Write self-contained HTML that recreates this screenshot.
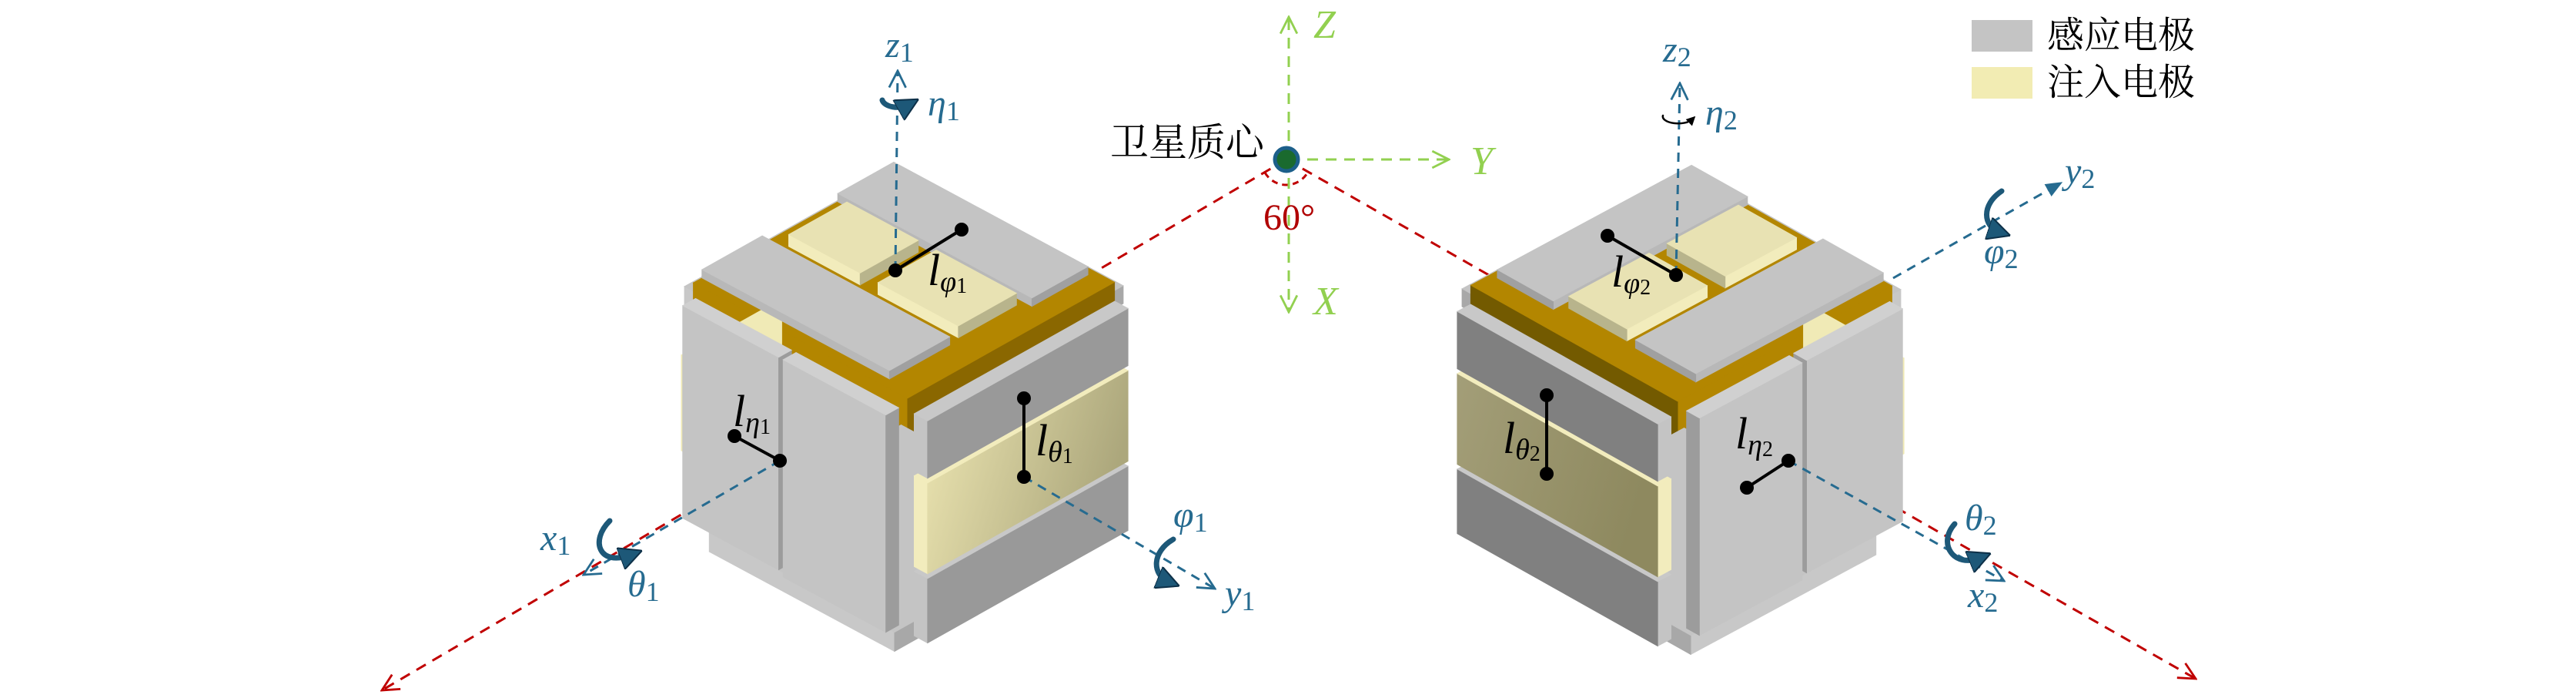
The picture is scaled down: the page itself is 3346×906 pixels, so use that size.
<!DOCTYPE html>
<html><head><meta charset="utf-8">
<style>
html,body{margin:0;padding:0;background:#fff;}
body{width:3346px;height:906px;overflow:hidden;}
svg{display:block;}
.m{font-family:"Liberation Serif","DejaVu Serif",serif;font-style:italic;}
.n{font-style:normal;}
.cjk{font-family:"Liberation Serif","Noto Serif CJK SC","Noto Sans CJK SC",serif;}
</style></head>
<body>
<svg id="s" width="3346" height="906" viewBox="0 0 3346 906" xmlns="http://www.w3.org/2000/svg">
<defs>
<linearGradient id="y1" x1="0" y1="0" x2="1" y2="0.3">
<stop offset="0" stop-color="#eee7b3"/><stop offset="1" stop-color="#aca77c"/></linearGradient>
<linearGradient id="y2" x1="0" y1="0" x2="1" y2="0.3">
<stop offset="0" stop-color="#a39e78"/><stop offset="1" stop-color="#8e895f"/></linearGradient>
<marker id="ar" viewBox="0 0 12 12" refX="11" refY="6" markerWidth="26" markerHeight="26" orient="auto" markerUnits="userSpaceOnUse">
<path d="M1,1 L11,6 L1,11" fill="none" stroke="#c00000" stroke-width="1.3"/></marker>
<marker id="ag" viewBox="0 0 12 12" refX="11" refY="6" markerWidth="26" markerHeight="26" orient="auto" markerUnits="userSpaceOnUse">
<path d="M1,1 L11,6 L1,11" fill="none" stroke="#92d050" stroke-width="1.3"/></marker>
<marker id="ab" viewBox="0 0 12 12" refX="11" refY="6" markerWidth="26" markerHeight="26" orient="auto" markerUnits="userSpaceOnUse">
<path d="M1,1 L11,6 L1,11" fill="none" stroke="#266b90" stroke-width="1.3"/></marker>
<marker id="abf" viewBox="0 0 12 12" refX="10" refY="6" markerWidth="22" markerHeight="22" orient="auto" markerUnits="userSpaceOnUse">
<path d="M0,1 L12,6 L0,11 z" fill="#266b90"/></marker>
<marker id="rot" viewBox="0 0 12 12" refX="6" refY="6" markerWidth="30" markerHeight="30" orient="auto" markerUnits="userSpaceOnUse">
<path d="M0,0 L12,6 L0,12 z" fill="#1d5878" stroke="#0d3048" stroke-width="0.8"/></marker>
<marker id="rotk" viewBox="0 0 12 12" refX="6" refY="6" markerWidth="12" markerHeight="12" orient="auto" markerUnits="userSpaceOnUse">
<path d="M0,0 L12,6 L0,12 z" fill="#000"/></marker>
</defs>

<g fill="none">
<line x1="1671" y1="207" x2="496" y2="896" stroke="#c00000" stroke-width="3" stroke-dasharray="14 10" marker-end="url(#ar)"/>
<line x1="1671" y1="207" x2="2852" y2="881" stroke="#c00000" stroke-width="3" stroke-dasharray="14 10" marker-end="url(#ar)"/>
<path d="M1643,224 A32 32 0 0 0 1699,223" stroke="#c00000" stroke-width="3" stroke-dasharray="8 6"/>
<line x1="1674" y1="207" x2="1674" y2="22" stroke="#92d050" stroke-width="3" stroke-dasharray="14 10" marker-end="url(#ag)"/>
<line x1="1674" y1="207" x2="1674" y2="405" stroke="#92d050" stroke-width="3" stroke-dasharray="14 10" marker-end="url(#ag)"/>
<line x1="1674" y1="207" x2="1882" y2="207" stroke="#92d050" stroke-width="3" stroke-dasharray="14 10" marker-end="url(#ag)"/>
</g>
<circle cx="1671" cy="207" r="15" fill="#1a6a2e" stroke="#1c5f8a" stroke-width="5"/>
<text x="1706" y="49" class="m" font-size="52" fill="#92d050">Z</text>
<text x="1910" y="226" class="m" font-size="52" fill="#92d050">Y</text>
<text x="1706" y="408" class="m" font-size="52" fill="#92d050">X</text>
<text x="1641" y="298" font-family="Liberation Serif,serif" font-size="48" fill="#b00000">60°</text>
<text x="1442" y="202" class="cjk" font-size="50" fill="#000">卫星质心</text>

<g id="cubes"></g>

<g fill="none" stroke="#266b90" stroke-width="3" stroke-dasharray="12 9">
<line x1="1163" y1="351" x2="1166" y2="92" marker-end="url(#ab)"/>
<line x1="1013" y1="598" x2="758" y2="746" marker-end="url(#ab)"/>
<line x1="1330" y1="619" x2="1578" y2="764" marker-end="url(#ab)"/>
<line x1="2177" y1="357" x2="2182" y2="108" marker-end="url(#ab)"/>
<line x1="2459" y1="361" x2="2676" y2="238" marker-end="url(#abf)"/>
<line x1="2323" y1="598" x2="2603" y2="754" marker-end="url(#ab)"/>
</g>
<g fill="none" stroke="#1d5878" stroke-width="7" stroke-linecap="round">
<path d="M1146,130 A20 11 0 0 0 1180,136" marker-end="url(#rot)"/>
<path d="M792,676 C766,702 778,736 820,720" marker-end="url(#rot)"/>
<path d="M1524,700 C1496,716 1496,746 1518,755" marker-end="url(#rot)"/>
<path d="M2600,248 C2573,266 2576,294 2597,301" marker-end="url(#rot)"/>
<path d="M2539,680 C2516,706 2538,738 2572,724" marker-end="url(#rot)"/>
<path d="M2160,150 A20 9 0 0 0 2198,155" stroke="#000" stroke-width="2.5" marker-end="url(#rotk)"/>
</g>
<g stroke="#000" stroke-width="4" fill="#000">
<line x1="1163" y1="351" x2="1249" y2="298"/><circle cx="1163" cy="351" r="7"/><circle cx="1249" cy="298" r="7"/>
<line x1="954" y1="566" x2="1013" y2="598"/><circle cx="954" cy="566" r="7"/><circle cx="1013" cy="598" r="7"/>
<line x1="1330" y1="517" x2="1330" y2="619"/><circle cx="1330" cy="517" r="7"/><circle cx="1330" cy="619" r="7"/>
<line x1="2088" y1="306" x2="2177" y2="357"/><circle cx="2088" cy="306" r="7"/><circle cx="2177" cy="357" r="7"/>
<line x1="2269" y1="633" x2="2323" y2="598"/><circle cx="2269" cy="633" r="7"/><circle cx="2323" cy="598" r="7"/>
<line x1="2009" y1="513" x2="2009" y2="615"/><circle cx="2009" cy="513" r="7"/><circle cx="2009" cy="615" r="7"/>
</g>
<g class="m" fill="#000" font-size="58">
<text x="1205" y="370">l<tspan font-size="38" dy="8">φ</tspan><tspan class="n" font-size="28" dy="2">1</tspan></text>
<text x="952" y="553">l<tspan font-size="38" dy="8">η</tspan><tspan class="n" font-size="28" dy="2">1</tspan></text>
<text x="1345" y="591">l<tspan font-size="38" dy="8">θ</tspan><tspan class="n" font-size="28" dy="2">1</tspan></text>
<text x="2093" y="372">l<tspan font-size="38" dy="8">φ</tspan><tspan class="n" font-size="28" dy="2">2</tspan></text>
<text x="2254" y="582">l<tspan font-size="38" dy="8">η</tspan><tspan class="n" font-size="28" dy="2">2</tspan></text>
<text x="1952" y="588">l<tspan font-size="38" dy="8">θ</tspan><tspan class="n" font-size="28" dy="2">2</tspan></text>
</g>
<g class="m" fill="#266b90" font-size="48">
<text x="1150" y="74">z<tspan class="n" font-size="36" dy="6">1</tspan></text>
<text x="1205" y="150">η<tspan class="n" font-size="36" dy="6">1</tspan></text>
<text x="702" y="714">x<tspan class="n" font-size="36" dy="6">1</tspan></text>
<text x="815" y="774">θ<tspan class="n" font-size="36" dy="6">1</tspan></text>
<text x="1591" y="786">y<tspan class="n" font-size="36" dy="6">1</tspan></text>
<text x="1524" y="684">φ<tspan class="n" font-size="36" dy="6">1</tspan></text>
<text x="2160" y="80">z<tspan class="n" font-size="36" dy="6">2</tspan></text>
<text x="2215" y="162">η<tspan class="n" font-size="36" dy="6">2</tspan></text>
<text x="2682" y="238">y<tspan class="n" font-size="36" dy="6">2</tspan></text>
<text x="2577" y="342">φ<tspan class="n" font-size="36" dy="6">2</tspan></text>
<text x="2556" y="788">x<tspan class="n" font-size="36" dy="6">2</tspan></text>
<text x="2552" y="688">θ<tspan class="n" font-size="36" dy="6">2</tspan></text>
</g>
<rect x="2561" y="26" width="79" height="41" fill="#c4c4c4"/>
<rect x="2561" y="87" width="79" height="41" fill="#f2ecb3"/>
<text x="2659" y="62" class="cjk" font-size="48" fill="#000">感应电极</text>
<text x="2659" y="123" class="cjk" font-size="48" fill="#000">注入电极</text>

<script>
(function(){
var NS='http://www.w3.org/2000/svg';
var g=document.getElementById('cubes');
function cube(m,c){
  var P=function(X,Y,Z){var x=1179-290*X+280*Y,y=830-156*X-157*Y-310*Z;return m?[3358-x,y+4]:[x,y];};
  function poly(pts,fill){var p=document.createElementNS(NS,'polygon');
    p.setAttribute('points',pts.map(function(q){return q[0].toFixed(1)+','+q[1].toFixed(1);}).join(' '));
    p.setAttribute('fill',fill);p.setAttribute('stroke',fill);p.setAttribute('stroke-width','0.8');g.appendChild(p);}
  function box(x0,x1,y0,y1,z0,z1,t,l,r){
    if(l)poly([P(x0,y0,z0),P(x1,y0,z0),P(x1,y0,z1),P(x0,y0,z1)],l);
    if(r)poly([P(x0,y0,z0),P(x0,y1,z0),P(x0,y1,z1),P(x0,y0,z1)],r);
    if(t)poly([P(x0,y0,z1),P(x1,y0,z1),P(x1,y1,z1),P(x0,y1,z1)],t);
  }
  var gold='#b38600',G='#c4c4c4';
  // gray outer frame under the gold top (corners)
  box(0.0,1.0,0.0,1.0,0.9,0.975,G,'#c8c8c8','#a8a8a8');
  // core
  box(0.01,0.97,0.01,0.97,0,1,gold,gold,c.gd);
  // bottom frame
  box(0.03,0.86,-0.03,0.86,-0.05,0.03,G,'#c8c8c8','#a8a8a8');
  // back yellow strip edge
  box(0.95,0.995,-0.02,0.4,0.3,0.7,'#f0eab6','#f0eab6','#f0eab6');
  // left-face vertical plates
  box(0.52,0.95,-0.06,0,0.06,0.95,'#d0d0d0',G,'#9c9c9c');
  box(0.04,0.50,-0.06,0,0.04,0.95,'#d0d0d0',G,'#9c9c9c');
  // right-face horizontal bars
  box(-0.06,0,0.03,0.96,0.0,0.27,'#c8c8c8',G,c.bar);
  box(-0.06,0,0.03,0.96,0.29,0.67,'#f2ecbd','#f2ecbd',c.yel);
  box(-0.06,0,0.03,0.96,0.69,0.93,'#c8c8c8',G,c.bar);
  // top items
  box(0.10,0.97,0.68,0.94,1,1.035,G,'#b8b8b8','#a0a0a0');
  box(0.58,0.90,0.38,0.65,1,1.05,'#e8e2b3','#f2ecbc','#b8b48c');
  box(0.14,0.50,0.38,0.65,1,1.05,'#e8e2b3','#f2ecbc','#b8b48c');
  box(0.13,0.97,0.05,0.33,1,1.035,G,'#b8b8b8','#a0a0a0');
}
cube(false,{gd:'#8a6700',bar:'#999999',yel:'url(#y1)'});
cube(true,{gd:'#735a00',bar:'#808080',yel:'url(#y2)'});
})();
</script>
</svg>
</body></html>
